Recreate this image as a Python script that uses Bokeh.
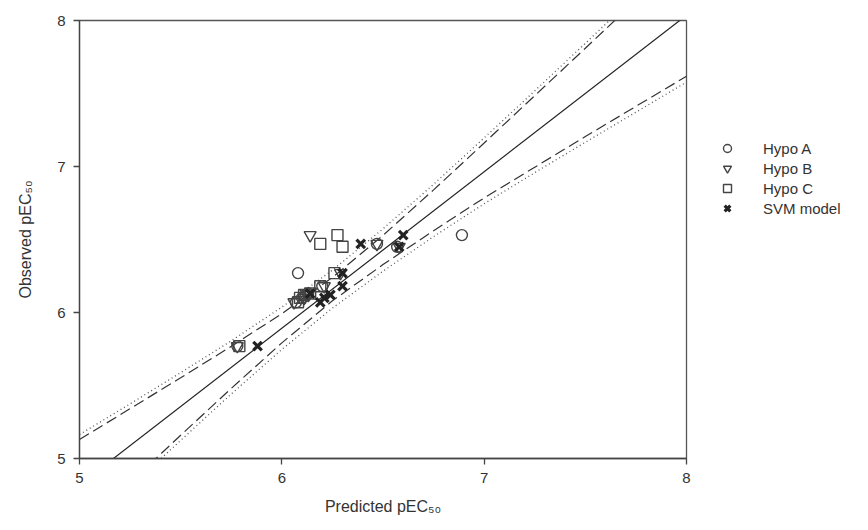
from bokeh.plotting import figure
from bokeh.models import Legend, LegendItem, FixedTicker, Range1d
from bokeh.embed import file_html
from bokeh.resources import INLINE

# ---- data ----
observed = [5.77, 6.07, 6.10, 6.12, 6.13, 6.18, 6.27, 6.45, 6.47, 6.53]
hypo_a = [5.78, 6.07, 6.10, 6.12, 6.13, 6.20, 6.08, 6.57, 6.47, 6.89]
hypo_b = [5.78, 6.06, 6.11, 6.13, 6.12, 6.21, 6.29, 6.58, 6.47, 6.14]
hypo_c = [5.79, 6.08, 6.09, 6.11, 6.14, 6.19, 6.26, 6.30, 6.19, 6.275]
svm = [5.88, 6.19, 6.21, 6.24, 6.14, 6.30, 6.30, 6.58, 6.39, 6.60]

fit_x = [5.0, 8.0]
fit_y = [4.82, 8.036]

band_x = [5.0, 5.25, 5.5, 5.75, 6.0, 6.25, 6.5, 6.75, 7.0, 7.25, 7.5, 7.75, 8.0]
conf_upper = [5.130, 5.341, 5.553, 5.768, 5.992, 6.240, 6.528, 6.840, 7.161, 7.485, 7.810, 8.137, 8.463]
conf_lower = [4.510, 4.835, 5.159, 5.480, 5.792, 6.080, 6.328, 6.560, 6.785, 6.995, 7.205, 7.412, 7.618]
pred_upper = [5.164, 5.374, 5.588, 5.806, 6.037, 6.290, 6.573, 6.878, 7.196, 7.518, 7.844, 8.172, 8.501]
pred_lower = [4.476, 4.802, 5.124, 5.442, 5.747, 6.030, 6.283, 6.520, 6.745, 6.958, 7.166, 7.372, 7.578]

ticks = [5, 6, 7, 8]
series_names = ["Hypo A", "Hypo B", "Hypo C", "SVM model"]
x_title = "Predicted pEC\u2085\u2080"
y_title = "Observed pEC\u2085\u2080"

FONT = "Liberation Sans"
INK = "#333333"

p = figure(frame_width=607, frame_height=438, output_backend="svg", toolbar_location=None,
           x_range=Range1d(5, 8), y_range=Range1d(5, 8),
           min_border_left=79, min_border_right=182, min_border_top=20, min_border_bottom=72)
p.background_fill_color = "white"
p.border_fill_color = "white"
p.grid.visible = False
p.outline_line_color = "#555555"
p.outline_line_width = 1.3

for ax in (p.xaxis[0], p.yaxis[0]):
    ax.ticker = FixedTicker(ticks=ticks)
    ax.minor_tick_line_color = None
    ax.major_tick_in = 0
    ax.major_tick_out = 6
    ax.axis_line_color = "#444444"
    ax.axis_line_width = 1.3
    ax.major_tick_line_color = "#444444"
    ax.major_tick_line_width = 1.3
    ax.major_label_text_font = FONT
    ax.major_label_text_font_size = "15px"
    ax.major_label_text_color = INK
    ax.major_label_standoff = 8
    ax.axis_label_text_font = FONT
    ax.axis_label_text_font_size = "16px"
    ax.axis_label_text_font_style = "normal"
    ax.axis_label_text_color = INK

p.xaxis[0].axis_label = x_title
p.xaxis[0].axis_label_standoff = 12
p.yaxis[0].axis_label = y_title
p.yaxis[0].axis_label_standoff = 20

# regression line and bands
p.line(fit_x, fit_y, line_color="#222222", line_width=1.2)
p.line(band_x, conf_upper, line_color="#333333", line_width=1.2, line_dash="11 5")
p.line(band_x, conf_lower, line_color="#333333", line_width=1.2, line_dash="11 5")
p.line(band_x, pred_upper, line_color="#555555", line_width=1.3, line_dash="1 3")
p.line(band_x, pred_lower, line_color="#555555", line_width=1.3, line_dash="1 3")

ra = p.scatter(hypo_a, observed, marker="circle", size=11, fill_color=None,
               line_color="#444444", line_width=1.4)
rb = p.scatter(hypo_b, observed, marker="inverted_triangle", size=12, fill_color=None,
               line_color="#444444", line_width=1.4)
rc = p.scatter(hypo_c, observed, marker="square", size=11, fill_color=None,
               line_color="#444444", line_width=1.4)
rs = p.scatter(svm, observed, marker="x", size=12, line_color="#222222", line_width=3.2)

legend = Legend(items=[LegendItem(label=n, renderers=[r]) for n, r in
                       zip(series_names, [ra, rb, rc, rs])],
                location=(28, 240))
legend.border_line_color = None
legend.background_fill_alpha = 0
legend.label_text_font = FONT
legend.label_text_font_size = "15px"
legend.label_text_color = INK
legend.glyph_width = 26
legend.glyph_height = 20
legend.label_height = 20
legend.spacing = 0
legend.label_standoff = 23
legend.padding = 0
legend.margin = 0
p.add_layout(legend, "right")

open("out.html", "w").write(file_html(p, INLINE))
